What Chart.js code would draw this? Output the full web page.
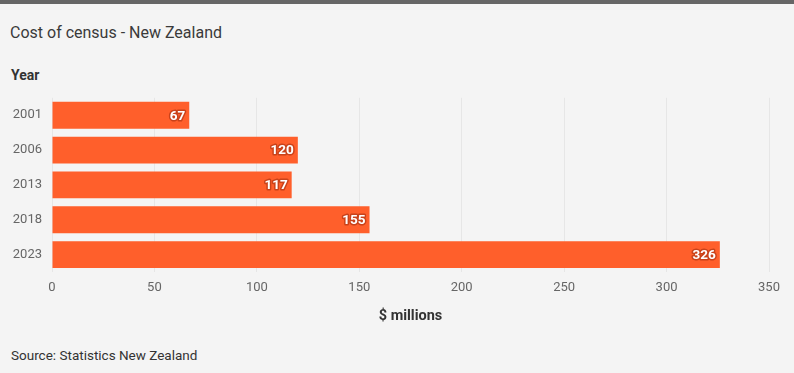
<!DOCTYPE html>
<html>
<head>
<meta charset="utf-8">
<script src="https://cdn.jsdelivr.net/npm/chart.js@4"></script>
<style>
  html, body { margin: 0; padding: 0; }
  body {
    width: 794px;
    height: 373px;
    background: #f4f4f4;
    border-top: 4px solid #666;
    box-sizing: border-box;
    position: relative;
    font-family: Roboto, 'Noto Sans', sans-serif;
    color: #333;
    overflow: hidden;
  }
  .title { position: absolute; left: 10px; top: 19px; font-size: 16px; color: #3a3a3a; }
  .year { position: absolute; left: 11px; top: 63px; font-size: 14px; font-weight: bold; }
  .source { position: absolute; left: 11px; top: 343px; font-size: 13.5px; }
  .wrap { position: absolute; left: 0; top: 84px; width: 794px; height: 242px; }
  canvas { display: block; }
</style>
</head>
<body>
<div class="title">Cost of census - New Zealand</div>
<div class="year">Year</div>
<div class="wrap"><canvas id="chart" width="794" height="242"></canvas></div>
<div class="source">Source: Statistics New Zealand</div>
<script>
const years = ['2001', '2006', '2013', '2018', '2023']
const costs = [67, 120, 117, 155, 326]
const xTicks = [0, 50, 100, 150, 200, 250, 300, 350]

const BAR_COLOR = '#ff5f2b'

const valueLabels = {
  id: 'valueLabels',
  afterDatasetsDraw(chart) {
    const ctx = chart.ctx
    const meta = chart.getDatasetMeta(0)
    ctx.save()
    ctx.font = 'bold 13.5px Roboto, sans-serif'
    ctx.textAlign = 'right'
    ctx.textBaseline = 'middle'
    ctx.lineJoin = 'round'
    meta.data.forEach((bar, i) => {
      const text = String(costs[i])
      const x = bar.x - 4
      const y = bar.y + 1
      ctx.lineWidth = 3
      ctx.strokeStyle = '#c9421a'
      ctx.strokeText(text, x, y)
      ctx.fillStyle = '#fff'
      ctx.fillText(text, x, y)
    })
    ctx.restore()
  },
}

new Chart(document.getElementById('chart'), {
  type: 'bar',
  data: {
    labels: years,
    datasets: [{
      data: costs,
      backgroundColor: BAR_COLOR,
      borderWidth: 0,
      barPercentage: 1,
      categoryPercentage: 0.77,
    }],
  },
  options: {
    indexAxis: 'y',
    responsive: false,
    animation: false,
    devicePixelRatio: 1,
    layout: { padding: { top: 0, right: 25, left: 0, bottom: 0 } },
    plugins: {
      legend: { display: false },
      tooltip: { enabled: false },
    },
    scales: {
      x: {
        min: 0,
        max: 350,
        afterBuildTicks(scale) {
          scale.ticks = xTicks.map((value) => ({ value }))
        },
        grid: { color: '#e6e6e6', drawTicks: false },
        border: { display: false },
        ticks: {
          padding: 8,
          color: '#666',
          font: { size: 13, family: 'Roboto, sans-serif' },
        },
        title: {
          display: true,
          text: '$ millions',
          color: '#333',
          font: { size: 14.5, weight: 'bold', family: 'Roboto, sans-serif' },
          padding: { top: 0, bottom: 5 },
        },
        afterFit(scale) {
          scale.height = 58
        },
      },
      y: {
        grid: { display: false },
        border: { display: false },
        ticks: {
          padding: 2,
          autoSkip: false,
          color: '#666',
          font: { size: 13, family: 'Roboto, sans-serif' },
        },
        afterFit(scale) {
          scale.width = 52
        },
      },
    },
  },
  plugins: [valueLabels],
})
</script>
</body>
</html>
